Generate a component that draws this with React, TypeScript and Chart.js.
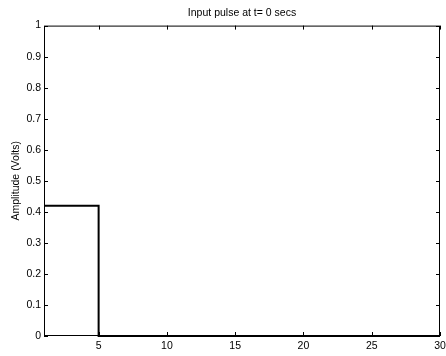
import React, { useEffect, useRef } from "react";
import { Chart, registerables } from "chart.js";

Chart.register(...registerables);

const timeValues = [1, 5, 5, 30];
const amplitudeValues = [0.42, 0.42, 0, 0];
const xTickValues = [5, 10, 15, 20, 25, 30];
const yTickValues = [0, 0.1, 0.2, 0.3, 0.4, 0.5, 0.6, 0.7, 0.8, 0.9, 1];
const titleText = "Input pulse at t= 0 secs";
const yLabel = "Amplitude (Volts)";

const FONT = "'Liberation Sans', Arial, Helvetica, sans-serif";

const boxPlugin = {
  id: "matlabBox",
  afterDraw(chart: any) {
    const { ctx, chartArea } = chart;
    const { left, right, top, bottom } = chartArea;
    ctx.save();
    ctx.strokeStyle = "#000";
    ctx.lineWidth = 1;
    ctx.strokeRect(left + 0.5, top + 0.5, right - left - 1, bottom - top - 1);
    const tl = 4;
    ctx.beginPath();
    const xs = chart.scales.x;
    xTickValues.forEach((v) => {
      const px = Math.round(xs.getPixelForValue(v)) + 0.5;
      ctx.moveTo(px, bottom);
      ctx.lineTo(px, bottom - tl);
      ctx.moveTo(px, top);
      ctx.lineTo(px, top + tl);
    });
    const ys = chart.scales.y;
    yTickValues.forEach((v) => {
      const py = Math.round(ys.getPixelForValue(v)) + 0.5;
      ctx.moveTo(left, py);
      ctx.lineTo(left + tl, py);
      ctx.moveTo(right, py);
      ctx.lineTo(right - tl, py);
    });
    ctx.stroke();
    ctx.restore();
  },
};

export default function App() {
  const ref = useRef<HTMLCanvasElement>(null);
  useEffect(() => {
    document.body.style.margin = "0";
    const canvas = ref.current!;
    const chart = new Chart(canvas, {
      type: "scatter",
      data: {
        datasets: [
          {
            data: timeValues.map((x, i) => ({ x, y: amplitudeValues[i] })),
            showLine: true,
            borderColor: "#000",
            backgroundColor: "#000",
            borderWidth: 2,
            pointRadius: 0,
            fill: false,
            clip: false as any,
          },
        ],
      },
      options: {
        responsive: false,
        animation: false,
        devicePixelRatio: 1,
        layout: { padding: { left: 0, right: 6, top: 1, bottom: 0 } },
        plugins: {
          legend: { display: false },
          tooltip: { enabled: false },
          title: {
            display: true,
            text: titleText,
            color: "#000",
            fullSize: false,
            font: { family: FONT, size: 10.5, weight: "normal" },
            padding: { top: 6, bottom: 6 },
          },
        },
        scales: {
          x: {
            type: "linear",
            min: 1,
            max: 30,
            grid: { display: false, drawTicks: false },
            border: { display: false },
            afterBuildTicks: (s: any) => {
              s.ticks = xTickValues.map((v) => ({ value: v }));
            },
            afterFit: (s: any) => {
              s.height = 20;
              s.paddingLeft = 0;
              s.paddingRight = 0;
            },
            ticks: {
              color: "#000",
              padding: 4,
              maxRotation: 0,
              autoSkip: false,
              font: { family: FONT, size: 10.5 },
              callback: (v: any) => String(v),
            },
          },
          y: {
            type: "linear",
            min: 0,
            max: 1,
            grid: { display: false, drawTicks: false },
            border: { display: false },
            afterBuildTicks: (s: any) => {
              s.ticks = yTickValues.map((v) => ({ value: v }));
            },
            afterFit: (s: any) => {
              s.width = 44;
              s.paddingTop = 0;
              s.paddingBottom = 0;
            },
            ticks: {
              color: "#000",
              padding: 3,
              autoSkip: false,
              font: { family: FONT, size: 10.5 },
              callback: (v: any) => String(Math.round(Number(v) * 10) / 10),
            },
            title: {
              display: true,
              text: yLabel,
              color: "#000",
              font: { family: FONT, size: 10.5 },
              padding: { top: 10, bottom: 0 },
            },
          },
        },
      },
      plugins: [boxPlugin],
    });
    return () => chart.destroy();
  }, []);
  return <canvas ref={ref} width={446} height={356} style={{ display: "block" }} />;
}
